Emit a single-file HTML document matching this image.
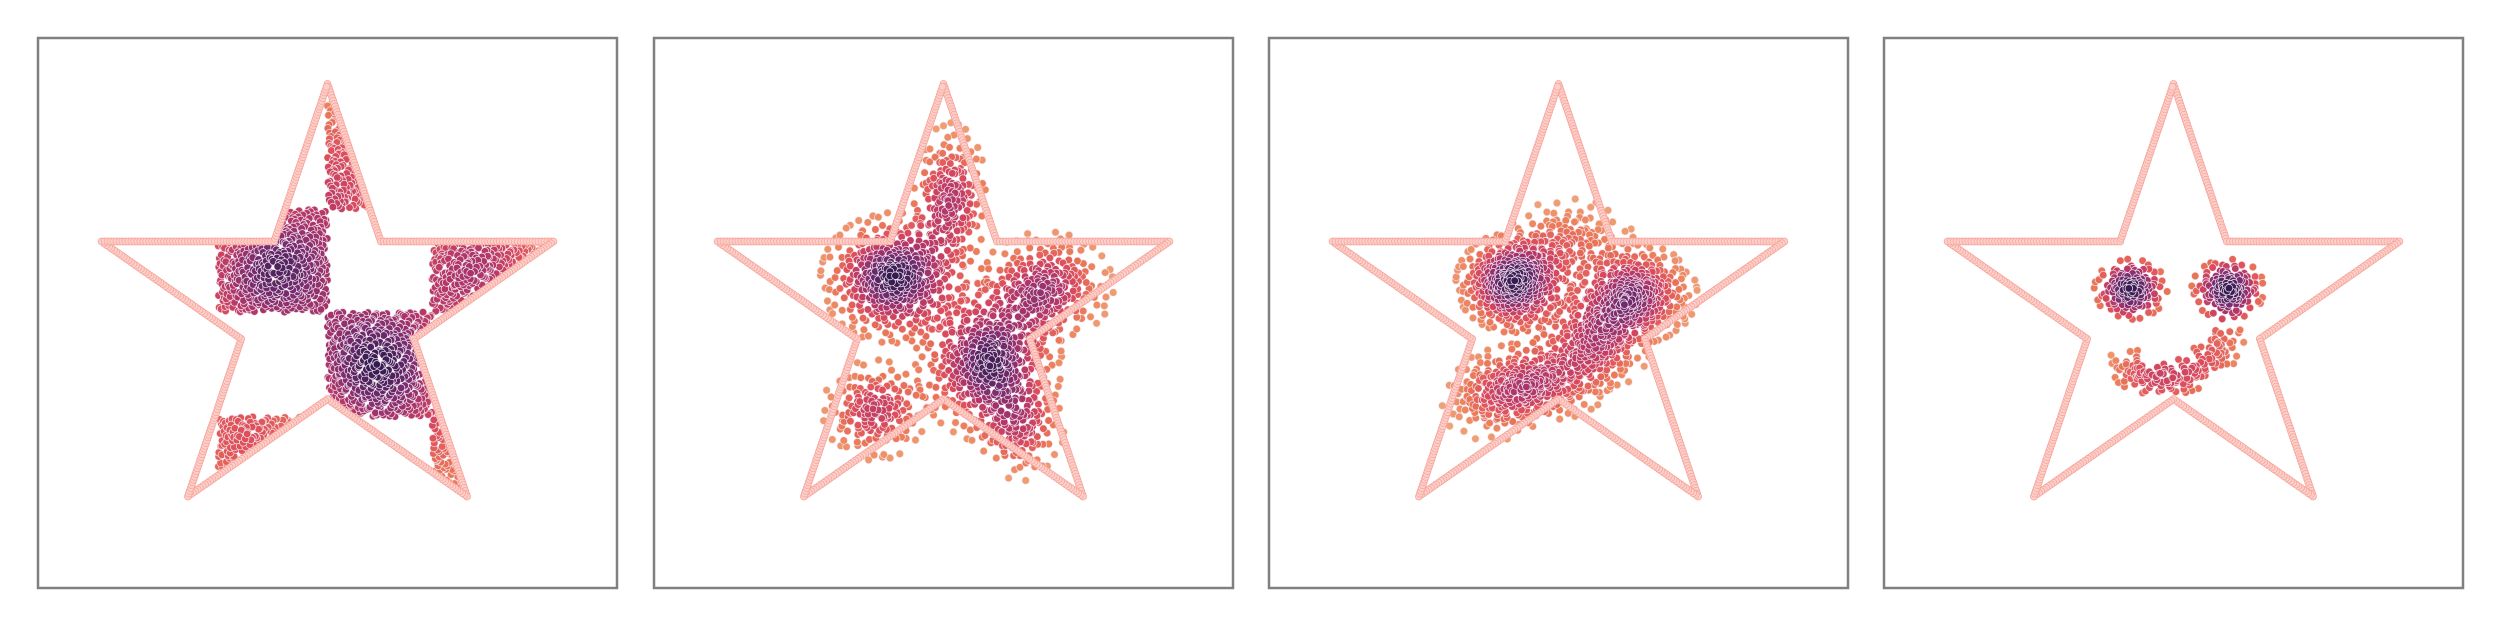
<!DOCTYPE html>
<html><head><meta charset="utf-8">
<style>
html,body{margin:0;padding:0;background:#fff;}
svg{display:block;}
</style></head>
<body>
<svg id="chart" width="2500" height="625" viewBox="0 0 2500 625" xmlns="http://www.w3.org/2000/svg"></svg>
<script>
// ---------------- data ----------------
const starVx = [0, 0.2245, 0.9511, 0.3633, 0.5878, 0, -0.5878, -0.3633, -0.9511, -0.2245];
const starVy = [1, 0.309, 0.309, -0.118, -0.809, -0.382, -0.809, -0.118, 0.309, 0.309];

// panel 1: checkerboard cells
const cellX0 = [0.0, -0.46, 0.44, 0.0, -0.46, 0.44];
const cellX1 = [0.44, 0.0, 0.91, 0.44, 0.0, 0.91];
const cellY0 = [0.45, 0.0, 0.0, -0.46, -0.93, -0.93];
const cellY1 = [0.92, 0.45, 0.45, 0.0, -0.46, -0.46];
const cellN  = [520, 520, 520, 520, 520, 520];

// panel 2: gaussian blobs
const p2cx = [-0.21, 0.19, 0.43, 0.03, -0.29, 0.33];
const p2cy = [0.15, -0.22, 0.11, 0.50, -0.43, -0.52];
const p2sx = [0.14, 0.14, 0.13, 0.07, 0.10, 0.08];
const p2sy = [0.13, 0.16, 0.11, 0.15, 0.10, 0.10];
const p2n  = [380, 420, 220, 180, 150, 100];

// panel 3: gaussian blobs
const p3cx = [-0.19, 0.32, 0.15, -0.11, 0.05, -0.28];
const p3cy = [0.13, 0.08, -0.13, -0.31, 0.32, -0.41];
const p3sx = [0.11, 0.12, 0.11, 0.15, 0.12, 0.10];
const p3sy = [0.10, 0.10, 0.10, 0.08, 0.08, 0.07];
const p3n  = [380, 320, 220, 260, 120, 80];

// panel 4: eyes + smile
const p4cx = [-0.18, 0.23, -0.19, -0.12, -0.02, 0.08, 0.16, 0.21];
const p4cy = [0.10, 0.10, -0.24, -0.29, -0.30, -0.27, -0.20, -0.13];
const p4sx = [0.07, 0.07, 0.045, 0.045, 0.045, 0.045, 0.045, 0.045];
const p4sy = [0.06, 0.06, 0.035, 0.035, 0.035, 0.035, 0.035, 0.035];
const p4n  = [130, 130, 24, 26, 28, 26, 24, 20];

// ---------------- layout ----------------
const NS = "http://www.w3.org/2000/svg";
const svg = document.getElementById("chart");
const panelLeft = [38, 654, 1269, 1884];
const panelW = 579, panelTop = 38, panelH = 550;
const unitX = 237.5, unitY = 228, centerY = 312, centerOff = 289.5;
function xs(p, v){ return panelLeft[p] + centerOff + v * unitX; }
function ys(v){ return centerY - v * unitY; }

const pal = [[241,170,122],[236,122,86],[221,76,90],[178,54,104],[120,44,112],[52,28,82]];
function color(t){
  t = Math.max(0, Math.min(1, t)) * (pal.length - 1);
  const i = Math.min(pal.length - 2, Math.floor(t)), f = t - i;
  const c = pal[i].map((a, k) => Math.round(a + (pal[i+1][k] - a) * f));
  return "rgb(" + c.join(",") + ")";
}
function halton(i, b){ let f = 1, r = 0; while (i > 0){ f /= b; r += f * (i % b); i = Math.floor(i / b);} return r; }
function inStar(x, y){
  let inside = false;
  for (let i = 0, j = starVx.length - 1; i < starVx.length; j = i++){
    const xi = starVx[i], yi = starVy[i], xj = starVx[j], yj = starVy[j];
    if (((yi > y) != (yj > y)) && (x < (xj - xi) * (y - yi) / (yj - yi) + xi)) inside = !inside;
  }
  return inside;
}

function dot(g, cx, cy, t){
  const c = document.createElementNS(NS, "circle");
  c.setAttribute("cx", cx.toFixed(1)); c.setAttribute("cy", cy.toFixed(1));
  c.setAttribute("r", 3.8);
  c.setAttribute("fill", color(t));
  c.setAttribute("stroke", "#f3e6f0"); c.setAttribute("stroke-width", "0.7");
  
  
  g.appendChild(c);
}

const densRadius = [70, 40, 40, 40];
const densPow = [0.8, 1.3, 1.4, 1.5];

for (let p = 0; p < 4; p++){
  const g = document.createElementNS(NS, "g");
  
  
  svg.appendChild(g);
  const frame = document.createElementNS(NS, "rect");
  frame.setAttribute("x", panelLeft[p]); frame.setAttribute("y", panelTop);
  frame.setAttribute("width", panelW); frame.setAttribute("height", panelH);
  frame.setAttribute("fill", "none"); frame.setAttribute("stroke", "#808080"); frame.setAttribute("stroke-width", "2.5");
  
  
  g.appendChild(frame);
  const pts = document.createElementNS(NS, "g");
  
  
  g.appendChild(pts);

  const all = [];
  let idx = 1;
  if (p === 0){
    for (let k = 0; k < cellX0.length; k++){
      const w = cellX1[k] - cellX0[k], h = cellY1[k] - cellY0[k];
      for (let i = 0; i < cellN[k]; i++, idx++){
        const x = cellX0[k] + halton(idx, 2) * w, y = cellY0[k] + halton(idx, 3) * h;
        if (!inStar(x, y)) continue;
        all.push([x, y]);
      }
    }
  } else {
    const CX = p === 1 ? p2cx : p === 2 ? p3cx : p4cx;
    const CY = p === 1 ? p2cy : p === 2 ? p3cy : p4cy;
    const SX = p === 1 ? p2sx : p === 2 ? p3sx : p4sx;
    const SY = p === 1 ? p2sy : p === 2 ? p3sy : p4sy;
    const N  = p === 1 ? p2n  : p === 2 ? p3n  : p4n;
    for (let k = 0; k < CX.length; k++){
      for (let i = 0; i < N[k]; i++, idx++){
        const u1 = Math.max(0.02, halton(idx, 2)), u2 = halton(idx, 3);
        const rr = Math.min(2.2, Math.sqrt(-2 * Math.log(u1)));
        all.push([CX[k] + SX[k] * rr * Math.cos(2 * Math.PI * u2), CY[k] + SY[k] * rr * Math.sin(2 * Math.PI * u2)]);
      }
    }
  }
  const P = all.map(([x, y]) => [xs(p, x), ys(y)]);
  const R2 = densRadius[p] * densRadius[p];
  const dens = P.map(([a, b]) => {
    let s = 0;
    for (const [c, d] of P){ const dd = (a - c) ** 2 + (b - d) ** 2; if (dd < R2) s += 1 - dd / R2; }
    return s;
  });
  const mxd = Math.max(...dens);
  const order = P.map((a, i) => i).sort((a, b) => dens[a] - dens[b]);
  order.forEach(i => dot(pts, P[i][0], P[i][1], Math.pow(dens[i] / mxd, densPow[p])));

  const og = document.createElementNS(NS, "g");
  
  
  g.appendChild(og);
  for (let e = 0; e < starVx.length; e++){
    const a = e, b = (e + 1) % starVx.length;
    const x0 = xs(p, starVx[a]), y0 = ys(starVy[a]), x1 = xs(p, starVx[b]), y1 = ys(starVy[b]);
    const L = Math.hypot(x1 - x0, y1 - y0), steps = Math.ceil(L / 3);
    for (let s = 0; s < steps; s++){
      const f = s / steps;
      const c = document.createElementNS(NS, "circle");
      c.setAttribute("cx", (x0 + (x1 - x0) * f).toFixed(1));
      c.setAttribute("cy", (y0 + (y1 - y0) * f).toFixed(1));
      c.setAttribute("r", 3.5);
      c.setAttribute("fill", "#fcd0c9"); c.setAttribute("stroke", "#f6a098"); c.setAttribute("stroke-width", "0.7");
      
      
      og.appendChild(c);
    }
  }
}
</script>
</body></html>
